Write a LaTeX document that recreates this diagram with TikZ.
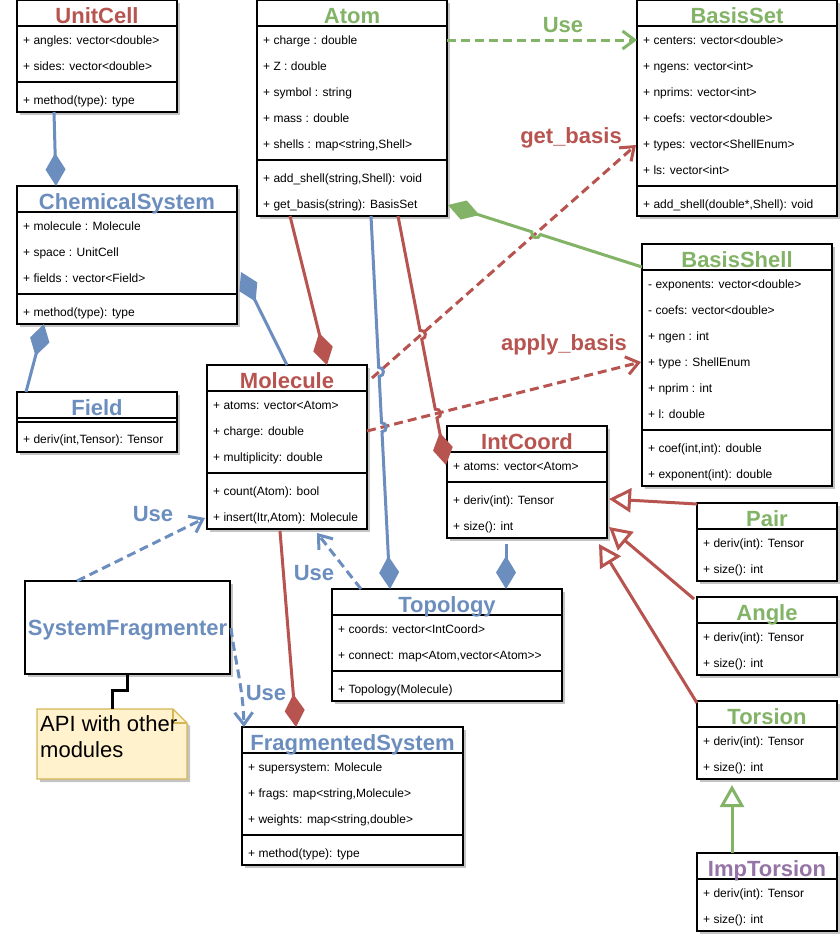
\documentclass[tikz,border=0pt]{standalone}
\usepackage{fontspec}
\setmainfont{Liberation Sans}
\usetikzlibrary{arrows.meta,calc,intersections}
\definecolor{cred}{HTML}{B85450}
\definecolor{cblue}{HTML}{6C8EBF}
\definecolor{cgreen}{HTML}{82B366}
\definecolor{cpurple}{HTML}{9673A6}
\definecolor{notefill}{HTML}{FFF2CC}
\definecolor{notedraw}{HTML}{D6B656}
\definecolor{shadowc}{HTML}{C4C4C4}
\tikzset{
  box/.style={draw=black, line width=1.2pt, fill=white, inner sep=0pt, outer sep=0pt, anchor=north west},
  boxline/.style={draw=black, line width=1.2pt},
  shadowbox/.style={fill=shadowc},
  titlef/.style={font=\fontsize{22}{26}\selectfont\bfseries, inner sep=0pt, anchor=base},
  rowt/.style={font=\fontsize{12}{14}\selectfont, inner sep=0pt, anchor=base west},
  lbl/.style={font=\fontsize{22}{26}\selectfont\bfseries, inner sep=0pt, anchor=base},
  notet/.style={font=\fontsize{22}{26}\selectfont, inner sep=0pt, anchor=base west},
  conn/.style={line width=3pt},
  comp/.style={conn, -{Diamond[length=33pt,width=20pt]}},
  gen/.style={conn, -{Triangle[open,length=22pt,width=24pt]}},
  dep/.style={conn, dash pattern=on 9pt off 5pt, -{Straight Barb[length=12pt,width=18pt]}},
  jump/.style={bend left=90, looseness=1.7},
}
\newcounter{txtc}
\newcommand\umlcls[7]{%
  \fill[shadowbox] (#2+3,#3+3) rectangle (#2+#4+3,#3+#5+3);
  \node[box, minimum width=#4pt, minimum height=#5pt] (#1) at (#2,#3) {};
  \draw[boxline] (#2,#3+26) -- (#2+#4,#3+26);
  \node[titlef, text=#6] (#1-title) at (#2+#4/2,#3+23) {#7};
}
\newcommand\sepl[3]{\draw[boxline] (#1,#3) -- (#1+#2,#3);}
\newcommand\rowl[3]{\stepcounter{txtc}\node[rowt] (txt\arabic{txtc}) at (#1+6,#2+4) {#3};}
\begin{document}
\begin{tikzpicture}[x=1pt,y=-1pt]
\useasboundingbox (0,0) rectangle (840,935);
\fill[white] (0,0) rectangle (840,935);

% ---------------- classes ----------------
\umlcls{unitcell}{17}{0}{160}{112}{cred}{UnitCell}
\rowl{17}{40}{+ angles: vector<double>}
\rowl{17}{66}{+ sides: vector<double>}
\sepl{17}{160}{82}
\rowl{17}{100}{+ method(type): type}

\umlcls{atom}{257}{0}{190}{216}{cgreen}{Atom}
\rowl{257}{40}{+ charge : double}
\rowl{257}{66}{+ Z : double}
\rowl{257}{92}{+ symbol : string}
\rowl{257}{118}{+ mass : double}
\rowl{257}{144}{+ shells : map<string,Shell>}
\sepl{257}{190}{160}
\rowl{257}{178}{+ add\_shell(string,Shell): void}
\rowl{257}{204}{+ get\_basis(string): BasisSet}

\umlcls{basisset}{637}{0}{200}{216}{cgreen}{BasisSet}
\rowl{637}{40}{+ centers: vector<double>}
\rowl{637}{66}{+ ngens: vector<int>}
\rowl{637}{92}{+ nprims: vector<int>}
\rowl{637}{118}{+ coefs: vector<double>}
\rowl{637}{144}{+ types: vector<ShellEnum>}
\rowl{637}{170}{+ ls: vector<int>}
\sepl{637}{200}{186}
\rowl{637}{204}{+ add\_shell(double*,Shell): void}

\umlcls{chemsys}{17}{186}{220}{138}{cblue}{ChemicalSystem}
\rowl{17}{226}{+ molecule : Molecule}
\rowl{17}{252}{+ space : UnitCell}
\rowl{17}{278}{+ fields : vector<Field>}
\sepl{17}{220}{294}
\rowl{17}{312}{+ method(type): type}

\umlcls{basisshell}{642}{244}{190}{242}{cgreen}{BasisShell}
\rowl{642}{284}{- exponents: vector<double>}
\rowl{642}{310}{- coefs: vector<double>}
\rowl{642}{336}{+ ngen : int}
\rowl{642}{362}{+ type : ShellEnum}
\rowl{642}{388}{+ nprim : int}
\rowl{642}{414}{+ l: double}
\sepl{642}{190}{430}
\rowl{642}{448}{+ coef(int,int): double}
\rowl{642}{474}{+ exponent(int): double}

\umlcls{field}{17}{392}{160}{60}{cblue}{Field}
\sepl{17}{160}{422}
\rowl{17}{439}{+ deriv(int,Tensor): Tensor}

\umlcls{molecule}{207}{365}{160}{164}{cred}{Molecule}
\rowl{207}{405}{+ atoms: vector<Atom>}
\rowl{207}{431}{+ charge: double}
\rowl{207}{457}{+ multiplicity: double}
\sepl{207}{160}{473}
\rowl{207}{491}{+ count(Atom): bool}
\rowl{207}{517}{+ insert(Itr,Atom): Molecule}

\umlcls{intcoord}{447}{426}{160}{112}{cred}{IntCoord}
\rowl{447}{466}{+ atoms: vector<Atom>}
\sepl{447}{160}{482}
\rowl{447}{500}{+ deriv(int): Tensor}
\rowl{447}{526}{+ size(): int}

\umlcls{pair}{697}{503}{140}{78}{cgreen}{Pair}
\rowl{697}{543}{+ deriv(int): Tensor}
\rowl{697}{569}{+ size(): int}

\umlcls{angle}{697}{597}{140}{78}{cgreen}{Angle}
\rowl{697}{637}{+ deriv(int): Tensor}
\rowl{697}{663}{+ size(): int}

\umlcls{torsion}{697}{701}{140}{78}{cgreen}{Torsion}
\rowl{697}{741}{+ deriv(int): Tensor}
\rowl{697}{767}{+ size(): int}

\umlcls{imptorsion}{697}{853}{140}{78}{cpurple}{ImpTorsion}
\rowl{697}{893}{+ deriv(int): Tensor}
\rowl{697}{919}{+ size(): int}

\umlcls{topology}{332}{589}{230}{112}{cblue}{Topology}
\rowl{332}{629}{+ coords: vector<IntCoord>}
\rowl{332}{655}{+ connect: map<Atom,vector<Atom>{}>}
\sepl{332}{230}{671}
\rowl{332}{689}{+ Topology(Molecule)}

\umlcls{fragsys}{242}{727}{221}{138}{cblue}{FragmentedSystem}
\rowl{242}{767}{+ supersystem: Molecule}
\rowl{242}{793}{+ frags: map<string,Molecule>}
\rowl{242}{819}{+ weights: map<string,double>}
\sepl{242}{221}{835}
\rowl{242}{853}{+ method(type): type}

% SystemFragmenter
\fill[shadowbox] (28,584) rectangle (233,677);
\node[box, minimum width=205pt, minimum height=93pt] (sysfrag) at (25,581) {};
\node[titlef, text=cblue] (sysfrag-title) at (127.5,635) {SystemFragmenter};

% Note
\node[inner sep=0pt, outer sep=0pt, minimum width=150pt, minimum height=70pt, anchor=north west] (note) at (37,709) {};
\fill[shadowbox] (40,712) -- (176,712) -- (190,726) -- (190,782) -- (40,782) -- cycle;
\filldraw[fill=notefill, draw=notedraw, line width=1.2pt] (note.north west) -- ($(note.north east)+(-14,0)$) -- ($(note.north east)+(0,14)$) -- (note.south east) -- (note.south west) -- cycle;
\draw[notedraw, line width=1.2pt] ($(note.north east)+(-14,0)$) -- ($(note.north east)+(-14,14)$) -- ($(note.north east)+(0,14)$);
\node[notet] (notel1) at (40,731) {API with other};
\node[notet] (notel2) at (40,757) {modules};

% ---------------- end points ----------------
\coordinate (gA) at ($(molecule.north east)+(5,13)$);
\coordinate (gB) at ($(basisset.north west)+(-1,145)$);
\coordinate (aA) at ($(molecule.north east)+(0,66)$);
\coordinate (aB) at ($(basisshell.north west)+(-1,118)$);
\coordinate (tA) at ($(atom.south west)+(114,0)$);
\coordinate (tB) at ($(topology.north west)+(58,0)$);
\coordinate (iA) at ($(atom.south west)+(141,0)$);
\coordinate (iB) at ($(intcoord.north west)+(-1,39)$);
\coordinate (sA) at ($(basisshell.north west)+(0,23)$);
\coordinate (sB) at ($(atom.north east)+(1,205)$);

\path[name path=pg] (gA) -- (gB);
\path[name path=pa] (aA) -- (aB);
\path[name path=pt] (tA) -- (tB);
\path[name path=pi] (iA) -- (iB);
\path[name path=ps] (sA) -- (sB);
\path[name intersections={of=pt and pg, by=x1}];
\path[name intersections={of=pt and pa, by=x2}];
\path[name intersections={of=pi and pg, by=x3}];
\path[name intersections={of=pi and pa, by=x4}];
\path[name intersections={of=ps and pg, by=x5}];

% ---------------- dependencies (dashed) ----------------
\draw[dep, cgreen] ($(atom.north east)+(0,40)$) -- ($(basisset.north west)+(0,40)$);
\draw[dep, cred] (gA) -- (gB);
\draw[dep, cred] (aA) -- (aB);
\draw[dep, cblue] ($(sysfrag.north west)+(52,0)$) -- ($(molecule.north west)+(-2,153)$);
\draw[dep, cblue] ($(topology.north west)+(29,0)$) -- ($(molecule.south west)+(110,4)$);
\draw[dep, cblue] ($(sysfrag.north east)+(1,47)$) .. controls ($(sysfrag.north east)+(5,80)$) and ($(fragsys.north west)+(1,-40)$) .. ($(fragsys.north west)+(2,0)$);

% ---------------- compositions ----------------
\draw[comp, cblue] ($(unitcell.south west)+(37,0)$) -- ($(chemsys.north west)+(39,0)$);
\draw[comp, cblue] ($(field.north west)+(9,0)$) -- ($(chemsys.south west)+(27,0)$);
\draw[comp, cblue] ($(molecule.north west)+(80,0)$) -- ($(chemsys.north east)+(4,86)$);
\draw[comp, cred] ($(atom.south west)+(33,0)$) -- ($(molecule.north west)+(120,0)$);
\draw[comp, cred] (iA) -- ($(x3)!4.5pt!(iA)$) to[jump] ($(x3)!4.5pt!(iB)$) -- ($(x4)!4.5pt!(iA)$) to[jump] ($(x4)!4.5pt!(iB)$) -- (iB);
\draw[comp, cblue] (tA) -- ($(x1)!4.5pt!(tA)$) to[jump] ($(x1)!4.5pt!(tB)$) -- ($(x2)!4.5pt!(tA)$) to[jump] ($(x2)!4.5pt!(tB)$) -- (tB);
\draw[comp, cblue] ($(intcoord.south west)+(59,6)$) -- ($(topology.north west)+(174,0)$);
\draw[comp, cred] ($(molecule.south west)+(73,2)$) -- ($(fragsys.north west)+(54,0)$);
\draw[comp, cgreen] (sA) -- ($(x5)!4.5pt!(sA)$) to[jump] ($(x5)!4.5pt!(sB)$) -- (sB);

% ---------------- generalizations ----------------
\draw[gen, cred] ($(pair.north west)+(0,1)$) -- ($(intcoord.north east)+(2,73)$);
\draw[gen, cred] ($(angle.north west)+(-3,2)$) -- ($(intcoord.north east)+(2,101)$);
\draw[gen, cred] ($(torsion.north west)+(0,2)$) -- ($(intcoord.south east)+(-8,6)$);
\draw[gen, cgreen] ($(imptorsion.north west)+(35,0)$) -- ($(torsion.south west)+(35,6)$);

% note link
\draw[black, line width=3pt] (sysfrag.south) -- ++(0,16) -| (note.north);

% ---------------- labels ----------------
\node[lbl, text=cgreen] (luse1) at (563,32) {Use};
\node[lbl, text=cred] (lget) at (571,143) {get\_basis};
\node[lbl, text=cred] (lapp) at (564,350) {apply\_basis};
\node[lbl, text=cblue] (luse2) at (153,521) {Use};
\node[lbl, text=cblue] (luse3) at (314,580) {Use};
\node[lbl, text=cblue] (luse4) at (266,700) {Use};
\end{tikzpicture}
\end{document}
